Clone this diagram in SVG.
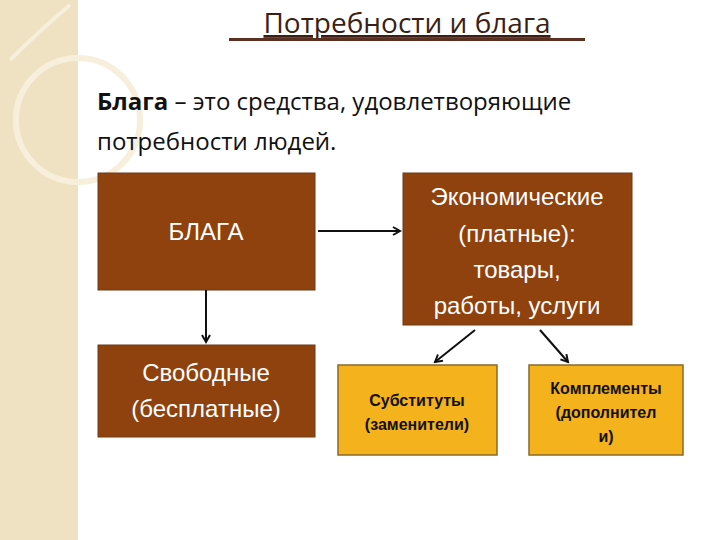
<svg xmlns="http://www.w3.org/2000/svg" width="720" height="540" viewBox="0 0 720 540">
<style>
.br{fill:#8f420e;stroke:#6b3a1a;stroke-width:1}
.gd{fill:#f4b21c;stroke:#8a6a2a;stroke-width:1.5}
.wt{font-family:"Liberation Sans",Arial,sans-serif;fill:#fff;font-size:24px;text-anchor:middle}
.bt{font-family:"Liberation Sans",Arial,sans-serif;fill:#111;font-size:16px;font-weight:bold;text-anchor:middle}
.ln{stroke:#111;stroke-width:2;fill:none;marker-end:url(#a)}
</style>
<defs><marker id="a" markerWidth="10" markerHeight="10" refX="8" refY="5" orient="auto" markerUnits="userSpaceOnUse"><path d="M1,1 L8,5 L1,9" fill="none" stroke="#111" stroke-width="2"/></marker></defs>
<rect width="720" height="540" fill="#fff"/>
<g id="deco"><rect x="0" y="0" width="78" height="540" fill="#efe2c2"/>
<circle cx="78" cy="120" r="62" fill="none" stroke="#f7efdc" stroke-width="6"/>
<path d="M10,60 Q40,30 70,5" stroke="#f7efdc" stroke-width="4" fill="none"/></g>
<text x="407" y="33" font-family="'Open Sans','Liberation Sans',sans-serif" font-size="28" fill="#3a1f17" text-anchor="middle" text-decoration="underline">Потребности и блага</text>
<rect x="229" y="38" width="356" height="3" fill="#5a3020"/>
<text font-family="'Open Sans','Liberation Sans',sans-serif" font-size="24" fill="#111"><tspan x="97" y="110"><tspan font-weight="bold">Блага</tspan> – это средства, удовлетворяющие</tspan><tspan x="97" y="150">потребности людей.</tspan></text>
<g id="blaga"><rect class="br" x="98" y="173" width="217" height="117"/><text class="wt" x="206" y="240">БЛАГА</text></g>
<g id="econ"><rect class="br" x="403" y="173" width="229" height="152"/><text class="wt"><tspan x="517" y="205">Экономические</tspan><tspan x="517" y="242">(платные):</tspan><tspan x="517" y="278">товары,</tspan><tspan x="517" y="314">работы, услуги</tspan></text></g>
<g id="free"><rect class="br" x="98" y="345" width="217" height="92"/><text class="wt"><tspan x="206" y="381">Свободные</tspan><tspan x="206" y="417">(бесплатные)</tspan></text></g>
<g id="subst"><rect class="gd" x="338" y="365" width="159" height="90"/><text class="bt"><tspan x="417" y="406">Субституты</tspan><tspan x="417" y="430">(заменители)</tspan></text></g>
<g id="compl"><rect class="gd" x="529" y="365" width="154" height="90"/><text class="bt"><tspan x="606" y="394">Комплементы</tspan><tspan x="606" y="418">(дополнител</tspan><tspan x="606" y="442">и)</tspan></text></g>
<g id="connectors">
<line class="ln" x1="318" y1="231" x2="400" y2="231"/>
<line class="ln" x1="206" y1="290" x2="206" y2="342"/>
<line class="ln" x1="475" y1="330" x2="435" y2="362"/>
<line class="ln" x1="540" y1="330" x2="568" y2="362"/>
</g>
</svg>
